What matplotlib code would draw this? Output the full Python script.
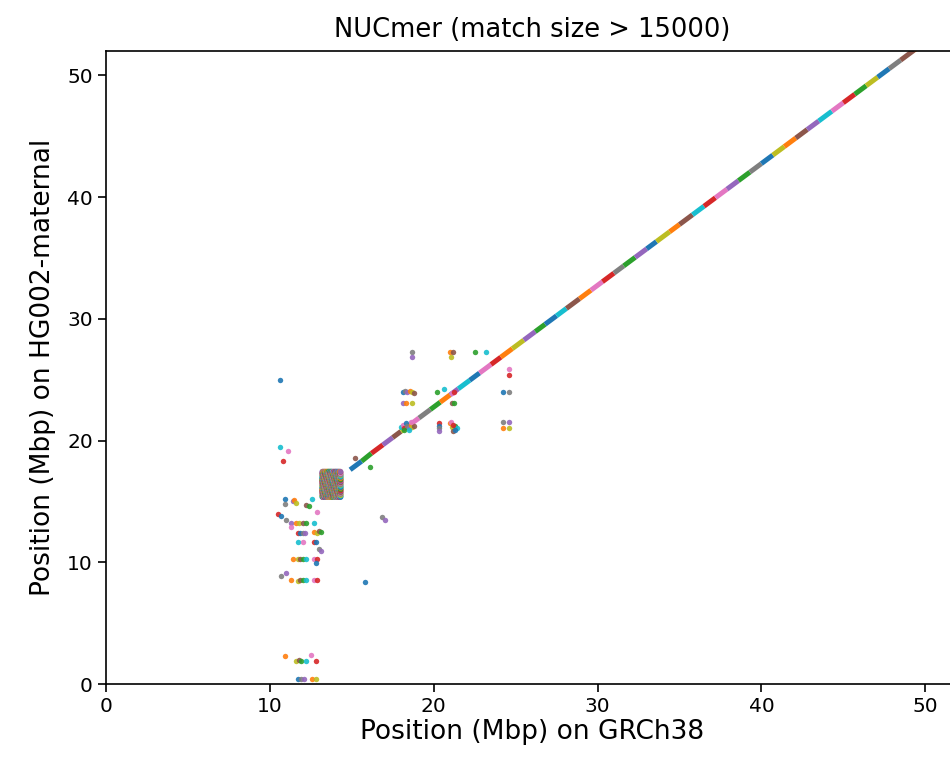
import matplotlib
matplotlib.use("Agg")
import matplotlib.pyplot as plt
import numpy as np

plt.rcParams['font.family'] = ['DejaVu Sans']

# ---- data (Mbp) ----
title = "NUCmer (match size > 15000)"
xlabel = "Position (Mbp) on GRCh38"
ylabel = "Position (Mbp) on HG002-maternal"
xticks = [0, 10, 20, 30, 40, 50]
yticks = [0, 10, 20, 30, 40, 50]

# main diagonal alignment blocks (breakpoints on reference / query)
diag_x = [14.9, 15.6, 16.2, 16.9, 17.5, 18.0, 18.6, 19.1, 19.8, 20.4, 21.0, 21.5,
          22.2, 22.8, 23.5, 24.1, 24.8, 25.5, 26.2, 26.8, 27.5, 28.1, 28.9, 29.6,
          30.3, 31.0, 31.6, 32.3, 33.0, 33.6, 34.4, 35.0, 35.8, 36.5, 37.2, 37.9,
          38.6, 39.3, 40.0, 40.7, 41.4, 42.1, 42.8, 43.5, 44.3, 45.0, 45.7, 46.4,
          47.1, 47.8, 48.5, 49.3, 50.0]
diag_y = [17.6, 18.3, 18.95, 19.65, 20.25, 20.75, 21.35, 21.85, 22.55, 23.15, 23.75, 24.25,
          24.95, 25.55, 26.25, 26.85, 27.55, 28.25, 28.95, 29.55, 30.25, 30.85, 31.65, 32.35,
          33.05, 33.75, 34.35, 35.05, 35.75, 36.35, 37.15, 37.75, 38.55, 39.25, 39.95, 40.65,
          41.35, 42.05, 42.75, 43.45, 44.15, 44.85, 45.55, 46.25, 47.05, 47.75, 48.45, 49.15,
          49.85, 50.55, 51.25, 52.05, 52.75]
diag_c = [0, 2, 3, 4, 5, 8, 6, 7, 2, 1, 4, 9, 0, 6, 3, 1, 8, 4, 2, 0, 9, 5, 1, 6, 3,
          7, 2, 4, 0, 8, 1, 5, 9, 3, 6, 4, 2, 7, 0, 8, 1, 5, 4, 9, 6, 3, 2, 8, 0, 7, 5, 1]

# short off-diagonal matches
pts_x = [10.6, 18.7, 18.7, 21.0, 21.05, 21.2, 22.5, 23.2, 24.6, 24.6,
         18.1, 18.25, 18.4, 18.55, 18.7, 18.8, 20.2, 20.6, 21.1, 21.25, 24.2, 24.6,
         18.1, 18.3, 18.7, 21.1, 21.25,
         18.0, 18.1, 18.2, 18.3, 18.4, 18.5, 18.6, 18.7, 18.8, 18.2, 18.5, 18.6,
         20.3, 20.3, 20.3, 20.3, 21.0, 21.1, 21.2, 21.3, 21.4, 21.05, 21.2, 21.3,
         24.2, 24.6, 24.2, 24.6,
         15.2, 16.1, 10.6, 11.1, 10.8,
         10.9, 10.9, 11.4, 11.5, 11.6, 12.2, 12.4, 12.6, 12.9,
         10.5, 10.7, 11.0,
         11.3, 11.6, 11.8, 12.0, 12.2, 12.7, 11.3,
         11.7, 11.85, 12.0, 12.15, 12.7, 12.85, 13.0, 13.1,
         11.7, 12.0, 12.7, 12.8, 13.0, 13.1,
         11.4, 11.7, 11.85, 12.0, 12.2, 12.7, 12.9, 12.8,
         10.7, 11.0,
         11.3, 11.7, 11.85, 12.0, 12.2, 12.7, 12.9,
         15.8, 16.85, 17.0,
         10.9, 11.6, 11.75, 11.9, 12.2, 12.5, 12.8,
         11.7, 11.9, 12.1, 12.6, 12.8]
pts_y = [25.0, 27.3, 26.9, 27.3, 26.9, 27.3, 27.3, 27.3, 25.9, 25.4,
         24.0, 24.1, 24.0, 24.1, 24.0, 23.9, 24.0, 24.2, 23.9, 24.0, 24.0, 24.0,
         23.1, 23.1, 23.1, 23.1, 23.1,
         21.1, 21.3, 21.0, 21.4, 21.2, 21.0, 21.3, 21.1, 21.2, 20.9, 20.9, 21.5,
         21.4, 21.2, 21.0, 20.8, 21.4, 21.1, 20.8, 21.2, 21.0, 21.5, 21.3, 20.9,
         21.5, 21.5, 21.0, 21.0,
         18.6, 17.8, 19.5, 19.1, 18.3,
         15.2, 14.75, 15.0, 15.1, 14.9, 14.7, 14.6, 15.2, 14.1,
         14.0, 13.8, 13.5,
         13.2, 13.2, 13.2, 13.2, 13.2, 13.2, 12.9,
         12.4, 12.4, 12.4, 12.4, 12.5, 12.4, 12.6, 12.5,
         11.66, 11.66, 11.66, 11.66, 11.1, 10.9,
         10.24, 10.24, 10.24, 10.24, 10.24, 10.24, 10.24, 9.95,
         8.87, 9.1,
         8.54, 8.5, 8.54, 8.54, 8.54, 8.57, 8.57,
         8.4, 13.7, 13.5,
         2.33, 1.92, 1.95, 1.92, 1.92, 2.4, 1.9,
         0.38, 0.38, 0.38, 0.38, 0.38]

# dense tandem-repeat block (many overlapping matches)
block_x = [13.20, 13.235, 13.27, 13.305, 13.34, 13.375, 13.41, 13.445, 13.48,
           13.515, 13.55, 13.585, 13.62, 13.655, 13.69, 13.725, 13.76, 13.795,
           13.83, 13.865, 13.90, 13.935, 13.97, 14.005, 14.04, 14.075, 14.11,
           14.145, 14.18, 14.215, 14.25, 14.285, 14.32]
block_y = [15.35, 15.40, 15.45, 15.50, 15.55, 15.60, 15.65, 15.70, 15.75, 15.80,
           15.85, 15.90, 15.95, 16.00, 16.05, 16.10, 16.15, 16.20, 16.25, 16.30,
           16.35, 16.40, 16.45, 16.50, 16.55, 16.60, 16.65, 16.70, 16.75, 16.80,
           16.85, 16.90, 16.95, 17.00, 17.05, 17.10, 17.15, 17.20, 17.25, 17.30,
           17.35, 17.40, 17.45]

# ---- figure ----
fig = plt.figure(figsize=(9.5, 7.63), dpi=100)
ax = fig.add_axes([106/950, 79/763, 852/950, 633/763])
cols = plt.rcParams['axes.prop_cycle'].by_key()['color']

for i in range(len(diag_x) - 1):
    ax.plot([diag_x[i], diag_x[i+1]], [diag_y[i], diag_y[i+1]], '-',
            color=cols[diag_c[i]], lw=3.6, solid_capstyle='butt')

for i, (x, y) in enumerate(zip(pts_x, pts_y)):
    ax.plot([x], [y], 'o', color=cols[(i * 7) % 10], ms=3.9, mew=0, alpha=0.9)

bx, by = np.meshgrid(block_x, block_y)
n = bx.size
bcols = [cols[((i * 2654435761) >> 7) % 10] for i in range(n)]
ax.scatter(bx.T.ravel(), by.T.ravel(), s=16, c=bcols, linewidths=0, alpha=0.8)

ax.set_xlim(0, 52)
ax.set_ylim(0, 52)
ax.set_xticks(xticks)
ax.set_yticks(yticks)
ax.tick_params(labelsize=14.5, length=6, width=1.2)
for s in ax.spines.values():
    s.set_linewidth(1.2)
ax.set_title(title, fontsize=18.5, pad=10)
ax.set_xlabel(xlabel, fontsize=19, labelpad=2)
ax.set_ylabel(ylabel, fontsize=19, labelpad=8)

fig.savefig("out.png", dpi=100)
